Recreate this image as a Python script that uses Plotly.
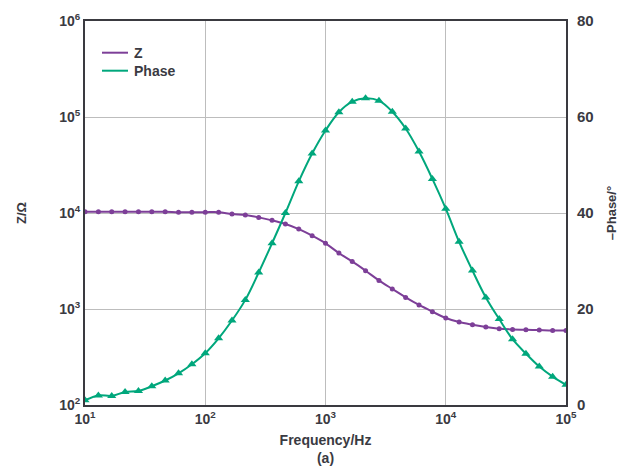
import plotly.graph_objects as go

freq = [10, 12.92, 16.68, 21.54, 27.83, 35.94, 46.42, 59.95, 77.43,
        100, 129.2, 166.8, 215.4, 278.3, 359.4, 464.2, 599.5, 774.3,
        1000, 1292, 1668, 2154, 2783, 3594, 4642, 5995, 7743,
        10000, 12915, 16681, 21544, 27826, 35938, 46416, 59948, 77426, 100000]

z_ohm = [10300, 10300, 10300, 10300, 10300, 10300, 10300, 10200, 10200,
         10200, 10200, 9760, 9530, 9000, 8380, 7680, 6800, 5800,
         4830, 3830, 3130, 2506, 1986, 1616, 1321, 1101, 938,
         806, 732, 686, 649, 623, 612, 608, 603, 598, 598]

phase_deg = [1.0, 2.0, 1.9, 2.7, 2.9, 3.9, 5.1, 6.6, 8.5,
             10.8, 13.9, 17.6, 21.9, 27.6, 33.7, 40.0, 46.6, 52.4,
             57.2, 61.0, 63.2, 63.9, 63.4, 61.1, 57.6, 52.8, 47.1,
             40.9, 34.0, 28.0, 22.4, 17.9, 13.7, 10.7, 8.0, 5.9, 4.2]

series_names = ["Z", "Phase"]

x_tickvals = [10, 100, 1000, 10000, 100000]
x_ticktext = ["10<sup>1</sup>", "10<sup>2</sup>", "10<sup>3</sup>", "10<sup>4</sup>", "10<sup>5</sup>"]
y_tickvals = [100, 1000, 10000, 100000, 1000000]
y_ticktext = ["10<sup>2</sup>", "10<sup>3</sup>", "10<sup>4</sup>", "10<sup>5</sup>", "10<sup>6</sup>"]
y2_tickvals = [0, 20, 40, 60, 80]

PURPLE = "#7d3f98"
GREEN = "#00a77c"
TXT = "#3a3a42"
AXIS = "#3a3a40"
GRID = "#bdbdbd"
FONT = "Liberation Sans, Arial, sans-serif"

fig = go.Figure()
fig.add_trace(go.Scatter(
    x=freq, y=z_ohm, name=series_names[0], mode="lines+markers", showlegend=False,
    line=dict(color=PURPLE, width=2, shape="spline"),
    marker=dict(symbol="circle", size=5, color=PURPLE),
))
fig.add_trace(go.Scatter(
    x=freq, y=phase_deg, name=series_names[1], mode="lines+markers", yaxis="y2",
    showlegend=False,
    line=dict(color=GREEN, width=2, shape="spline"),
    marker=dict(symbol="triangle-up", size=8, color=GREEN),
))

# manual legend (lines only, as in the reference); positions relative to plot area
legend_colors = [PURPLE, GREEN]
legend_rows = [52.7, 70.7]
PL, PB, PW, PH = 85, 405, 481, 384
shapes = []
annotations = []
for name, col, yy in zip(series_names, legend_colors, legend_rows):
    yp = (PB - yy) / PH
    shapes.append(dict(type="line", xref="paper", yref="paper",
                       x0=(102 - PL) / PW, x1=(128 - PL) / PW, y0=yp, y1=yp,
                       line=dict(color=col, width=2)))
    annotations.append(dict(text=f"<b>{name}</b>", xref="paper", yref="paper",
                            x=(132 - PL) / PW, y=yp,
                            xanchor="left", yanchor="middle", showarrow=False,
                            font=dict(family=FONT, size=14, color=TXT)))

fig.update_layout(
    width=619, height=458,
    margin=dict(l=77, r=61, t=13, b=61),
    paper_bgcolor="white", plot_bgcolor="white",
    font=dict(family=FONT, color=TXT),
    showlegend=False,
    shapes=shapes,
    annotations=annotations,
    xaxis=dict(
        type="log", range=[1, 5], automargin=False,
        tickvals=x_tickvals, ticktext=x_ticktext,
        tickfont=dict(family=FONT, size=14, color=TXT, weight="bold"),
        showgrid=True, gridcolor=GRID, gridwidth=1.3,
        showline=True, linecolor=AXIS, linewidth=2, mirror=True,
        ticks="", zeroline=False,
        title=dict(text="<b>Frequency/Hz</b><br><b>(a)</b>",
                   font=dict(family=FONT, size=14, color=TXT), standoff=9),
    ),
    yaxis=dict(
        type="log", range=[2, 6], automargin=False,
        tickvals=y_tickvals, ticktext=y_ticktext,
        tickfont=dict(family=FONT, size=14, color=TXT, weight="bold"),
        showgrid=True, gridcolor=GRID, gridwidth=1.3,
        showline=True, linecolor=AXIS, linewidth=2,
        ticks="", zeroline=False,
        title=dict(text="<b>Z/Ω</b>", font=dict(family=FONT, size=13, color=TXT), standoff=30),
    ),
    yaxis2=dict(
        overlaying="y", side="right", range=[0, 80], automargin=False,
        tickvals=y2_tickvals,
        tickfont=dict(family=FONT, size=15, color=TXT, weight="bold"),
        ticklabelstandoff=6,
        showgrid=False, showline=True, linecolor=AXIS, linewidth=2,
        ticks="", zeroline=False,
        title=dict(text="<b>–Phase/°</b>", font=dict(family=FONT, size=13, color=TXT), standoff=14),
    ),
)

fig.write_html("out.html")
